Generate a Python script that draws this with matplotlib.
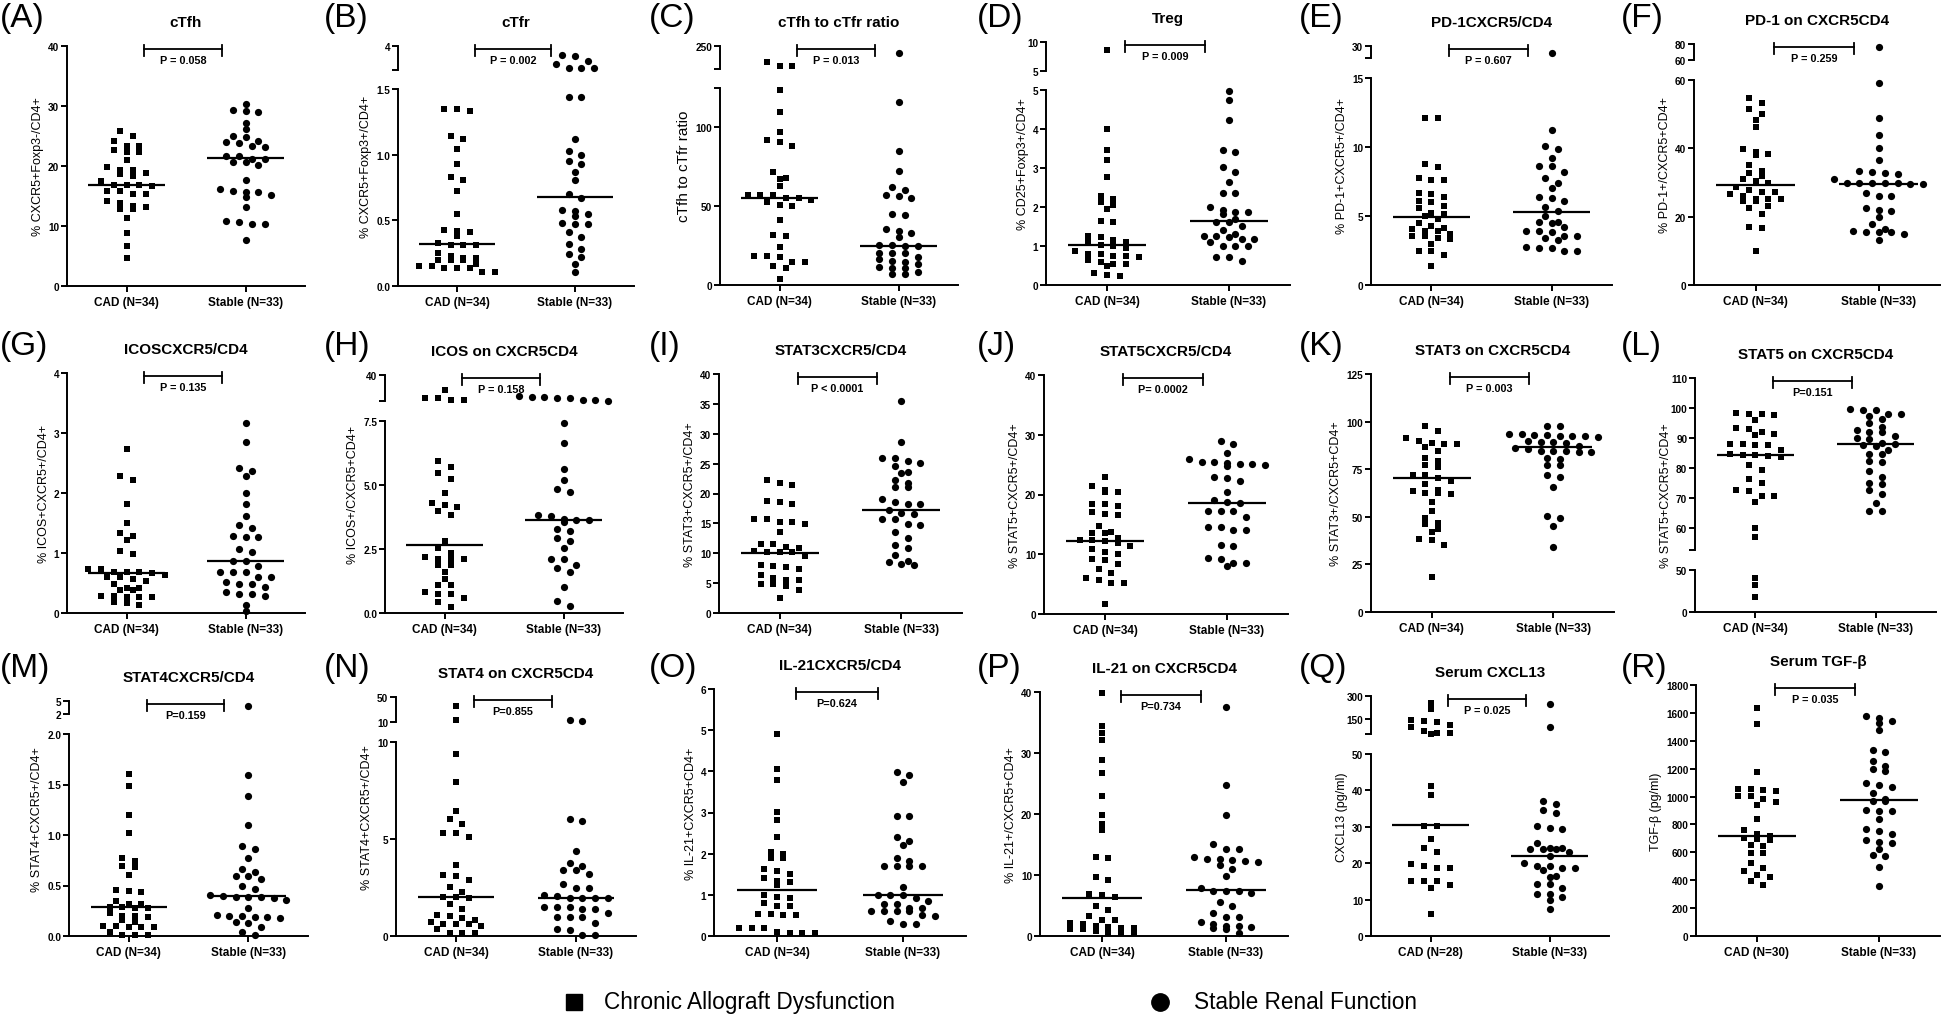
import numpy as np
import matplotlib
matplotlib.use("Agg")
import matplotlib.pyplot as plt
import matplotlib.transforms as mtransforms
from matplotlib.lines import Line2D

plt.rcParams['font.family'] = ['Liberation Sans', 'DejaVu Sans']
plt.rcParams['font.weight'] = 'bold'

# ---------------- data ----------------
cad_A = [22.7, 23.4, 25.9, 25.0, 24.2, 23.4, 22.4, 22.4, 21.0, 19.3, 19.8, 19.3, 18.3, 18.6, 18.9, 16.8, 15.8,
         15.8, 16.8, 17.5, 16.7, 16.8, 15.4, 15.3, 13.9, 14.1, 13.1, 12.8, 12.8, 13.4, 11.4, 8.8, 6.7, 4.6]
stb_A = [30.3, 29.0, 29.2, 29.3, 27.2, 26.1, 25.0, 24.8, 23.8, 23.4, 23.2, 24.0, 24.2, 21.7, 20.7, 20.2, 21.2,
         21.2, 20.7, 21.6, 17.6, 15.2, 15.8, 14.9, 15.7, 16.1, 15.6, 13.2, 10.4, 10.8, 10.4, 10.6, 7.7]
cad_B = [1.335, 1.35, 1.35, 1.14, 1.12, 1.04, 0.93, 0.81, 0.83, 0.72, 0.55, 0.41, 0.42, 0.43, 0.38, 0.33, 0.31,
         0.31, 0.31, 0.25, 0.23, 0.21, 0.20, 0.20, 0.21, 0.20, 0.15, 0.14, 0.14, 0.14, 0.15, 0.17, 0.11, 0.11]
stb_B = [3.17, 3.22, 2.53, 2.75, 2.19, 2.19, 2.19, 1.44, 1.44, 1.12, 1.03, 1.00, 0.95, 0.93, 0.87, 0.81, 0.70,
         0.67, 0.57, 0.55, 0.58, 0.53, 0.48, 0.41, 0.47, 0.47, 0.32, 0.28, 0.37, 0.24, 0.22, 0.17, 0.11]
cad_C = [207, 206, 216, 124, 109.6, 97, 92, 90.6, 88.5, 67.7, 67.2, 71.5, 62.8, 57.4, 54.9, 57, 55.3, 57, 51,
         53.8, 52.8, 50.2, 41, 31, 31.5, 24, 18.7, 18.7, 18, 14.9, 14.9, 11.9, 10.6, 3.8]
stb_C = [234, 116, 85.3, 72.3, 60.2, 61.9, 56.6, 54.9, 57.4, 45.3, 44.3, 35.3, 33.2, 34.3, 30.4, 25.1, 24.7,
         24.7, 25.5, 20.4, 20.4, 20.4, 18.0, 14.9, 15.5, 16.2, 11.3, 10.6, 10.6, 13.4, 7.0, 7.0, 8.5]
cad_D = [8.7, 3.99, 3.46, 3.21, 2.76, 2.29, 2.2, 2.05, 2.13, 1.96, 1.62, 1.65, 1.16, 1.22, 1.25, 0.79, 0.79,
         1.0, 1.09, 1.02, 0.88, 0.75, 0.73, 0.75, 0.58, 0.54, 0.54, 0.49, 0.31, 0.26, 0.24, 1.1, 0.95, 0.65]
stb_D = [4.97, 4.74, 4.23, 3.46, 3.41, 2.9, 3.03, 2.63, 2.35, 2.35, 2.01, 1.88, 1.88, 1.93, 1.82, 1.69, 1.62,
         1.62, 1.18, 1.26, 1.32, 1.25, 1.18, 1.42, 1.22, 1.0, 0.99, 0.99, 1.09, 0.73, 0.73, 0.62, 1.52]
cad_E = [12.1, 12.1, 8.76, 8.54, 7.62, 7.74, 7.62, 6.68, 6.36, 6.12, 6.6, 6.0, 5.56, 5.71, 5.15, 4.98, 4.79,
         4.26, 4.16, 3.9, 3.34, 4.06, 3.58, 3.7, 3.39, 3.94, 3.53, 2.49, 2.49, 2.18, 1.4, 3.0, 5.2, 4.5]
stb_E = [24.2, 11.25, 9.83, 10.1, 9.2, 8.6, 8.6, 8.2, 7.74, 7.4, 7.04, 6.31, 6.41, 6.12, 5.64, 5.35, 3.94,
         4.55, 4.6, 4.5, 3.94, 3.58, 3.29, 3.58, 3.41, 2.49, 2.78, 2.71, 2.71, 2.44, 3.82, 5.0, 4.2]
cad_F = [54.7, 53.3, 51.5, 50.0, 48.3, 46.3, 39.8, 39.0, 38.3, 38.0, 35.2, 33.5, 32.0, 32.8, 31.0, 30.5, 29.9,
         28.6, 27.9, 27.1, 26.6, 27.1, 26.1, 25.2, 24.7, 25.2, 25.2, 24.5, 23.2, 22.4, 20.8, 16.6, 16.9, 10.0]
stb_F = [76.7, 59.1, 48.8, 43.9, 40.1, 36.6, 32.5, 33.3, 32.7, 33.2, 31.0, 29.9, 29.8, 29.8, 29.8, 29.5, 29.6,
         29.8, 26.1, 26.0, 26.9, 22.0, 22.4, 21.8, 19.8, 17.9, 16.4, 15.6, 15.6, 14.9, 15.6, 15.9, 13.3]
cad_G = [2.73, 2.22, 2.29, 1.81, 1.5, 1.29, 1.33, 1.21, 0.98, 1.03, 0.67, 0.69, 0.6, 0.64, 0.73, 0.73, 0.6,
         0.69, 0.68, 0.54, 0.57, 0.41, 0.49, 0.39, 0.41, 0.39, 0.27, 0.29, 0.28, 0.27, 0.27, 0.13, 0.18, 0.17]
stb_G = [3.17, 2.85, 2.36, 2.41, 2.29, 2.0, 1.81, 1.61, 1.46, 1.41, 1.27, 1.27, 1.29, 1.06, 1.02, 0.79, 0.86,
         0.86, 0.6, 0.49, 0.49, 0.69, 0.69, 0.69, 0.6, 0.51, 0.44, 0.29, 0.35, 0.32, 0.32, 0.14, 0.03]
cad_H = [8.8, 8.8, 21.7, 12.2, 12.2, 5.92, 5.72, 5.46, 5.23, 4.67, 4.22, 4.13, 4.29, 4.0, 3.83, 2.83, 2.53,
         2.11, 2.35, 2.18, 2.11, 2.11, 1.88, 1.88, 1.34, 1.1, 1.1, 0.82, 0.75, 0.75, 0.23, 0.43, 0.6, 1.6]
stb_H = [14.2, 9.2, 9.2, 12.9, 12.9, 11.6, 8.3, 11.6, 7.41, 6.66, 5.62, 5.2, 4.84, 4.71, 3.8, 3.83, 3.65,
         3.65, 3.57, 3.67, 3.28, 2.83, 2.92, 2.53, 2.11, 2.11, 1.88, 1.75, 1.62, 1.01, 0.27, 0.45, 3.2]
cad_I = [22.3, 21.7, 21.4, 18.6, 18.3, 18.7, 15.8, 14.9, 15.2, 15.3, 15.8, 13.5, 11.6, 11.6, 10.2, 10.9, 10.2,
         10.2, 9.5, 8.0, 7.4, 7.9, 7.7, 5.8, 5.6, 6.4, 4.9, 4.6, 4.9, 5.6, 2.5, 10.3, 3.9, 11.0]
stb_I = [35.4, 28.7, 25.4, 25.1, 26.0, 25.9, 24.6, 23.6, 23.4, 22.3, 21.8, 21.1, 21.1, 18.6, 18.3, 19.0, 18.3,
         15.7, 16.8, 17.2, 15.7, 14.9, 14.8, 13.5, 12.5, 11.3, 10.8, 9.7, 8.1, 8.7, 8.2, 8.5, 16.5]
cad_J = [23.0, 20.5, 20.8, 20.4, 21.5, 18.1, 18.4, 18.4, 16.6, 17.1, 16.7, 14.7, 13.6, 13.6, 13.7, 12.4, 12.8,
         12.4, 12.3, 11.9, 11.4, 10.9, 10.4, 10.0, 9.1, 9.2, 8.4, 7.5, 6.9, 6.0, 5.2, 5.2, 5.7, 1.7]
stb_J = [28.9, 28.4, 27.0, 25.5, 24.9, 25.1, 25.1, 25.9, 24.7, 25.2, 25.5, 22.7, 22.9, 22.3, 20.5, 19.1, 18.6,
         17.3, 17.3, 17.3, 16.3, 14.5, 14.1, 14.1, 14.5, 11.5, 11.4, 9.3, 9.2, 8.0, 8.5, 8.5, 18.8]
cad_K = [97.9, 95.3, 91.3, 89.7, 86.5, 88.3, 88.3, 88.8, 84.8, 80.9, 77.4, 79.2, 76.4, 71.7, 71.7, 70.3, 67.0,
         63.3, 64.2, 62.4, 62.1, 62.6, 57.7, 53.3, 49.5, 46.3, 46.9, 43.7, 42.0, 37.6, 38.1, 35.3, 18.4, 69.0]
stb_K = [97.9, 97.6, 91.8, 93.5, 93.0, 92.7, 93.5, 92.3, 92.3, 92.3, 89.5, 90.0, 89.2, 84.3, 84.3, 83.9, 84.3,
         83.9, 80.4, 80.8, 77.4, 77.3, 70.8, 72.0, 65.6, 49.3, 50.2, 45.1, 34.1, 87.0, 86.0, 88.5, 85.5]
cad_L = [98.4, 95.8, 97.7, 98.1, 98.1, 91.4, 90.8, 93.3, 92.1, 93.0, 88.0, 87.5, 87.5, 88.0, 84.6, 84.1, 83.5,
         84.3, 80.8, 79.1, 76.3, 75.0, 72.1, 72.7, 70.7, 70.7, 68.5, 59.8, 56.8, 41, 32, 18.4, 84.0, 86.0]
stb_L = [98.1, 99.2, 99.2, 99.7, 97.9, 96.4, 95.0, 97.3, 92.5, 93.6, 92.1, 92.1, 90.6, 89.5, 87.2, 87.5, 88.0,
         88.3, 84.7, 84.7, 81.9, 82.1, 78.8, 76.9, 74.6, 75.0, 72.4, 71.3, 68.3, 65.4, 65.4, 90.0, 86.0]
cad_M = [1.60, 1.49, 1.2, 1.02, 0.77, 0.69, 0.68, 0.74, 0.6, 0.46, 0.45, 0.44, 0.32, 0.28, 0.29, 0.35, 0.32,
         0.29, 0.28, 0.2, 0.2, 0.23, 0.19, 0.16, 0.1, 0.09, 0.1, 0.14, 0.09, 0.09, 0.01, 0.01, 0.04, 0.01]
stb_M = [3.9, 1.59, 1.39, 1.1, 0.86, 0.89, 0.77, 0.63, 0.66, 0.59, 0.56, 0.59, 0.47, 0.5, 0.4, 0.41, 0.36,
         0.39, 0.39, 0.39, 0.38, 0.28, 0.2, 0.19, 0.21, 0.18, 0.2, 0.19, 0.14, 0.09, 0.13, 0.04, 0.01]
cad_N = [35, 13.7, 9.4, 7.94, 6.43, 6.01, 5.31, 5.76, 5.1, 5.33, 3.64, 3.09, 3.13, 2.9, 2.53, 2.27, 2.01,
         2.01, 1.96, 1.67, 1.41, 1.07, 1.01, 0.93, 0.64, 0.64, 0.64, 0.81, 0.52, 0.72, 0.34, 0.17, 0.17, 0.17]
stb_N = [13.6, 12.1, 6.01, 5.91, 4.36, 3.78, 3.61, 3.38, 3.21, 3.38, 2.7, 2.47, 2.47, 2.06, 1.96, 1.96, 1.96,
         1.96, 2.13, 1.41, 1.19, 1.49, 1.49, 1.49, 1.41, 0.69, 0.98, 0.98, 0.98, 0.34, 0.29, 0.07, 0.07]
cad_O = [4.91, 4.06, 3.8, 3.01, 2.81, 2.4, 2.0, 2.05, 1.89, 1.89, 1.62, 1.51, 1.59, 1.41, 1.33, 1.23, 1.31,
         0.99, 0.92, 0.95, 0.81, 0.74, 0.74, 0.54, 0.54, 0.5, 0.5, 0.19, 0.19, 0.19, 0.1, 0.08, 0.08, 0.08]
stb_O = [3.91, 3.98, 3.75, 2.91, 2.91, 2.3, 2.4, 2.21, 1.9, 1.81, 1.7, 1.7, 1.7, 1.7, 1.19, 1.0, 1.0,
         1.0, 0.86, 0.92, 0.78, 0.78, 0.6, 0.68, 0.6, 0.68, 0.6, 0.6, 0.49, 0.5, 0.3, 0.36, 0.3]
cad_P = [39.9, 34.4, 33.2, 32.1, 28.8, 26.8, 22.9, 19.9, 18.3, 17.3, 13.0, 12.8, 9.6, 9.1, 6.9, 6.4, 6.8,
         5.0, 4.2, 3.3, 2.6, 2.6, 2.0, 1.6, 1.3, 1.3, 1.1, 1.1, 0.8, 0.5, 0.5, 0.5, 1.5, 2.2]
stb_P = [37.5, 24.7, 19.8, 15.1, 14.2, 14.2, 12.5, 12.7, 13.0, 12.3, 12.7, 12.2, 11.6, 11.0, 9.8, 7.3, 7.3,
         7.3, 7.9, 4.9, 5.6, 3.8, 2.3, 3.1, 1.2, 1.9, 1.3, 1.5, 3.1, 1.6, 1.6, 0.5, 7.0]
cad_Q = [256, 216, 143, 134, 128, 112, 93, 73, 57, 57, 51, 41.3, 38.6, 30.3, 30.3, 26.7, 24.2, 23.0, 19.7,
         18.6, 19.2, 18.6, 15.0, 13.3, 15.0, 14.1, 15.0, 6.1]
stb_Q = [249, 95, 37.2, 36.3, 34.5, 33.8, 30.3, 29.7, 29.3, 25.6, 23.2, 23.8, 23.9, 24.2, 24.2, 23.8, 20.0,
         21.9, 18.0, 19.2, 18.6, 19.2, 18.6, 16.2, 16.6, 14.2, 14.2, 13.3, 11.6, 11.6, 9.8, 10.7, 7.5]
cad_R = [1635, 1520, 1178, 1005, 1053, 1046, 1053, 1041, 941, 962, 1005, 986, 838, 699, 730, 718, 689, 706,
         651, 646, 598, 594, 491, 527, 467, 436, 426, 366, 395, 760]
stb_R = [1580, 1539, 1527, 1560, 1479, 1335, 1316, 1257, 1216, 1180, 1197, 1096, 1082, 1065, 1024, 969, 981,
         898, 898, 905, 838, 754, 766, 730, 689, 675, 665, 627, 574, 579, 498, 359, 969]

medians = [(16.9, 21.3), (0.32, 0.68), (55.5, 25), (1.03, 1.65), (4.93, 5.32), (29.2, 29.5),
           (0.66, 0.87), (2.65, 3.65), (10.1, 17.2), (12.3, 18.6), (70.2, 86.4), (84.3, 88.0),
           (0.29, 0.40), (2.0, 1.95), (1.11, 1.0), (6.3, 7.5), (30.4, 22.0), (718, 976)]

cad = [cad_A, cad_B, cad_C, cad_D, cad_E, cad_F, cad_G, cad_H, cad_I,
       cad_J, cad_K, cad_L, cad_M, cad_N, cad_O, cad_P, cad_Q, cad_R]
stb = [stb_A, stb_B, stb_C, stb_D, stb_E, stb_F, stb_G, stb_H, stb_I,
       stb_J, stb_K, stb_L, stb_M, stb_N, stb_O, stb_P, stb_Q, stb_R]

letters = list("ABCDEFGHIJKLMNOPQR")
titles = ["cTfh", "cTfr", "cTfh to cTfr ratio", "Treg", "PD-1CXCR5/CD4", "PD-1 on CXCR5CD4",
          "ICOSCXCR5/CD4", "ICOS on CXCR5CD4", "STAT3CXCR5/CD4", "STAT5CXCR5/CD4",
          "STAT3 on CXCR5CD4", "STAT5 on CXCR5CD4", "STAT4CXCR5/CD4", "STAT4 on CXCR5CD4",
          "IL-21CXCR5/CD4", "IL-21 on CXCR5CD4", "Serum CXCL13", "Serum TGF-β"]
ylabels = ["% CXCR5+Foxp3-/CD4+", "% CXCR5+Foxp3+/CD4+", "cTfh to cTfr ratio", "% CD25+Foxp3+/CD4+",
           "% PD-1+CXCR5+/CD4+", "% PD-1+/CXCR5+CD4+", "% ICOS+CXCR5+/CD4+", "% ICOS+/CXCR5+CD4+",
           "% STAT3+CXCR5+/CD4+", "% STAT5+CXCR5+/CD4+", "% STAT3+/CXCR5+CD4+", "% STAT5+CXCR5+/CD4+",
           "% STAT4+CXCR5+/CD4+", "% STAT4+CXCR5+/CD4+", "% IL-21+CXCR5+CD4+", "% IL-21+/CXCR5+CD4+",
           "CXCL13 (pg/ml)", "TGF-β (pg/ml)"]
pvals = ["P = 0.058", "P = 0.002", "P = 0.013", "P = 0.009", "P = 0.607", "P = 0.259",
         "P = 0.135", "P = 0.158", "P < 0.0001", "P= 0.0002", "P = 0.003", "P=0.151",
         "P=0.159", "P=0.855", "P=0.624", "P=0.734", "P = 0.025", "P = 0.035"]
n_cad = [34] * 16 + [28, 30]
n_stb = [33] * 18

lower_lim = [(0, 40), (0, 1.5), (0, 125), (0, 5), (0, 15), (0, 60), (0, 4), (0, 7.5), (0, 40),
             (0, 40), (0, 125), (0, 50), (0, 2), (0, 10), (0, 6), (0, 40), (0, 50), (0, 1800)]
lower_ticks = [[0, 10, 20, 30, 40], [0, 0.5, 1.0, 1.5], [0, 50, 100, 125], [0, 1, 2, 3, 4, 5],
               [0, 5, 10, 15], [0, 20, 40, 60], [0, 1, 2, 3, 4], [0, 2.5, 5.0, 7.5],
               list(range(0, 41, 5)), [0, 10, 20, 30, 40], [0, 25, 50, 75, 100, 125], [0, 50],
               [0, 0.5, 1.0, 1.5, 2.0], [0, 5, 10], [0, 1, 2, 3, 4, 5, 6], [0, 10, 20, 30, 40],
               [0, 10, 20, 30, 40, 50], list(range(0, 1801, 200))]
lower_labels = {1: ["0.0", "0.5", "1.0", "1.5"], 2: ["0", "50", "100", ""],
                7: ["0.0", "2.5", "5.0", "7.5"], 12: ["0.0", "0.5", "1.0", "1.5", "2.0"]}
upper_lim = [None, (2, 4), (200, 250), (5, 10), (20, 30), (60, 80), None, (8, 40), None,
             None, None, (52.5, 110), (2, 5), (10, 50), None, None, (50, 300), None]
upper_ticks = [None, [2, 4], [200, 250], [5, 10], [20, 30], [60, 80], None, [8, 40], None,
               None, None, [52.5, 60, 70, 80, 90, 100, 110], [2, 5], [10, 50], None, None,
               [50, 150, 300], None]
upper_labels = [None, ["", "4"], ["", "250"], ["5", "10"], ["", "30"], ["60", "80"], None, ["", "40"],
                None, None, None, ["", "60", "70", "80", "90", "100", "110"], ["2", "5"], ["10", "50"],
                None, None, ["", "150", "300"], None]

# ---------------- layout (pixels) ----------------
W, H = 1946, 1020
# left, right, bottom, top, lower-segment top, upper-segment bottom
geom = [(67, 305, 287, 47, None, None), (398, 634, 287, 47, 90, 71), (720, 958, 286, 47, 89, 70),
        (1046, 1290, 286, 43, 91, 72), (1371, 1612, 286, 47, 79, 59), (1694, 1940, 286, 45, 81, 61),
        (67, 305, 614, 374, None, None), (385, 623, 614, 376, 422, 402), (719, 962, 614, 375, None, None),
        (1044, 1288, 615, 376, None, None), (1371, 1614, 613, 375, None, None), (1695, 1936, 613, 379, 571, 551),
        (69, 308, 937, 702, 735, 715), (396, 636, 937, 698, 743, 723), (714, 966, 937, 690, None, None),
        (1040, 1288, 937, 693, None, None), (1371, 1609, 937, 697, 755, 735), (1696, 1940, 937, 686, None, None)]
label_x = [0, 324, 649, 977, 1299, 1621]
label_y = [18, 346, 668]

fig = plt.figure(figsize=(W / 100, H / 100), dpi=100)


def fx(x):
    return x / W


def fy(y):
    return 1 - y / H


def style(a):
    for s in ('top', 'right'):
        a.spines[s].set_visible(False)
    for s in ('left', 'bottom'):
        a.spines[s].set_linewidth(1.4)
    a.tick_params(axis='both', direction='out', length=4, width=1.4, labelsize=7.2, pad=1.5)
    a.patch.set_visible(False)


def row_offsets(ypx, d, h=6.0):
    # GraphPad-like scatter: points close in height share a row, centred
    ypx = np.asarray(ypx, float)
    order = np.argsort(ypx, kind='stable')
    offs = np.zeros(len(ypx))
    rows = []
    for i in order:
        if rows and ypx[i] - ypx[rows[-1][0]] < h:
            rows[-1].append(i)
        else:
            rows.append([i])
    for r in rows:
        n = len(r)
        for j, i in enumerate(r):
            offs[i] = (j - (n - 1) / 2) * d
    return offs


for k in range(18):
    L, R, B, T, LT, UB = geom[k]
    lo, up = lower_lim[k], upper_lim[k]
    top_low = LT if up else T

    ax = fig.add_axes([fx(L), fy(B), (R - L) / W, (B - top_low) / H])
    style(ax)
    ax.set_xlim(-0.5, 1.5)
    ax.set_ylim(*lo)
    ax.set_yticks(lower_ticks[k])
    if k in lower_labels:
        ax.set_yticklabels(lower_labels[k])
    else:
        ax.set_yticklabels([str(t) for t in lower_ticks[k]])
    ax.set_xticks([0, 1])
    ax.set_xticklabels([f"CAD (N={n_cad[k]})", f"Stable (N={n_stb[k]})"], fontsize=8.5)
    ax.tick_params(axis='x', pad=3)

    axu = None
    if up:
        axu = fig.add_axes([fx(L), fy(UB), (R - L) / W, (UB - T) / H])
        style(axu)
        axu.spines['bottom'].set_visible(False)
        axu.set_xlim(-0.5, 1.5)
        axu.set_ylim(*up)
        axu.set_xticks([])
        axu.set_yticks(upper_ticks[k])
        axu.set_yticklabels(upper_labels[k])

    def to_px(v):
        if up is None or v <= lo[1]:
            return B - (v - lo[0]) / (lo[1] - lo[0]) * (B - top_low)
        return UB - (v - up[0]) / (up[1] - up[0]) * (UB - T)

    ppu = (R - L) / 2.0
    for g, (vals, mk, ms) in enumerate([(cad[k], 's', 4.7), (stb[k], 'o', 5.2)]):
        vals = np.asarray(vals, float)
        ypx = np.array([to_px(v) for v in vals])
        xs = g + row_offsets(ypx, 12.7) / ppu
        in_up = vals > lo[1] if up else np.zeros(len(vals), bool)
        ax.plot(xs[~in_up], vals[~in_up], mk, ms=ms, color='black', mew=0, clip_on=False, zorder=3)
        if in_up.any():
            axu.plot(xs[in_up], vals[in_up], mk, ms=ms, color='black', mew=0, clip_on=False, zorder=3)
        m = medians[k][g]
        tgt = axu if (up and m > lo[1]) else ax
        tgt.hlines(m, g - 0.32, g + 0.32, colors='black', lw=1.6, zorder=4)

    ax.set_ylabel(ylabels[k], fontsize=11 if k == 2 else 9, labelpad=3)
    yc = (B + T) / 2
    ax.yaxis.label.set_y((B - yc) / (B - top_low))

    fig.text(fx((L + R) / 2), fy(T - 24), titles[k], ha='center', va='center', fontsize=11)
    fig.text(fx(label_x[k % 6]), fy(label_y[k // 6]), f"({letters[k]})", ha='left', va='center',
             fontsize=24, fontweight='normal')

    # significance bracket
    atop = axu if up else ax
    tr = mtransforms.blended_transform_factory(atop.transData, fig.transFigure)
    yb = T + 3
    fig.add_artist(Line2D([0.15, 0.8], [fy(yb), fy(yb)], transform=tr, color='black', lw=1.3))
    for xe in (0.15, 0.8):
        fig.add_artist(Line2D([xe, xe], [fy(yb - 4), fy(yb + 7)], transform=tr, color='black', lw=1.3))
    fig.text(0.475, fy(yb + 11), pvals[k], transform=tr, ha='center', va='center', fontsize=7.8)

# legend
fig.add_artist(Line2D([fx(574)], [fy(1003)], marker='s', ms=12, color='black', ls='none',
                      transform=fig.transFigure))
fig.text(fx(604), fy(1003), "Chronic Allograft Dysfunction", fontsize=16.3, fontweight='normal', va='center')
fig.add_artist(Line2D([fx(1160)], [fy(1003)], marker='o', ms=12.5, color='black', ls='none',
                      transform=fig.transFigure))
fig.text(fx(1194), fy(1003), "Stable Renal Function", fontsize=16.3, fontweight='normal', va='center')

fig.savefig("out.png", dpi=100)
